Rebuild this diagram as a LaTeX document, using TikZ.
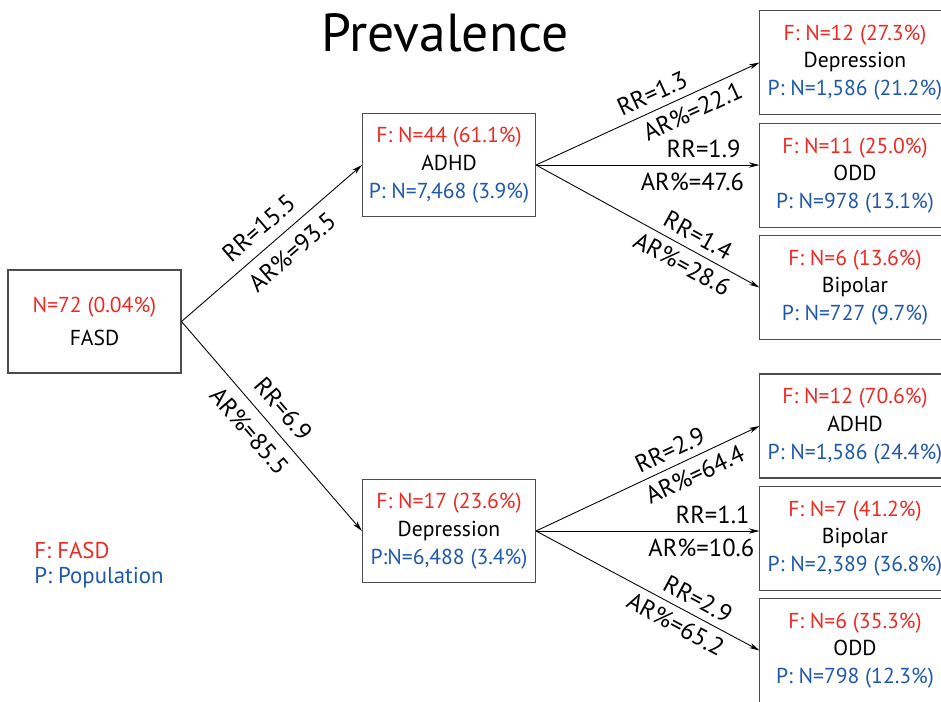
\documentclass[tikz,border=0pt]{standalone}
\usepackage{fontspec}
\setmainfont{PT Sans}
\usetikzlibrary{positioning,arrows.meta}
\definecolor{fred}{RGB}{236,42,36}
\definecolor{pblue}{RGB}{30,88,172}
\tikzset{frame/.style={draw=black!70,line width=0.6pt},
box/.style={frame,align=center,minimum width=3.46cm,minimum height=2.06cm,inner sep=0pt,font=\fontsize{12.3}{15.8}\selectfont},
rbox/.style={box,draw=none,minimum width=3.8cm},
branch/.style={-{Stealth[length=6pt,width=3pt]},line width=0.5pt},
lbl/.style={font=\fontsize{14}{16}\selectfont,inner sep=4pt}}
\newcommand{\fl}[1]{\textcolor{fred}{#1}}
\newcommand{\pl}[1]{\textcolor{pblue}{#1}}
\begin{document}
\begin{tikzpicture}[x=0.02cm,y=-0.02cm]
\useasboundingbox (0,0) rectangle (941,701);
\node (title) at (445,33) {\fontsize{30.5}{34}\selectfont Prevalence};
% first level
\node[box] (fasd) at (94.5,321.5) {\fl{N=72 (0.04\%)}\\[3pt]FASD};
\node[box] (adhd) at (449,165) {\fl{F: N=44 (61.1\%)}\\ADHD\\\pl{P: N=7,468 (3.9\%)}};
\node[box] (dep) at (449,531) {\fl{F: N=17 (23.6\%)}\\Depression\\\pl{P:N=6,488 (3.4\%)}};
% second level, cut by the right edge
\node[rbox] (dep1) at (855,62.5) {\fl{F: N=12 (27.3\%)}\\Depression\\\pl{P: N=1,586 (21.2\%)}};
\node[rbox] (odd1) at (855,175.5) {\fl{F: N=11 (25.0\%)}\\ODD\\\pl{P: N=978 (13.1\%)}};
\node[rbox] (bip1) at (855,287.5) {\fl{F: N=6 (13.6\%)}\\Bipolar\\\pl{P: N=727 (9.7\%)}};
\node[rbox] (adhd2) at (855,426) {\fl{F: N=12 (70.6\%)}\\ADHD\\\pl{P: N=1,586 (24.4\%)}};
\node[rbox] (bip2) at (855,538.5) {\fl{F: N=7 (41.2\%)}\\Bipolar\\\pl{P: N=2,389 (36.8\%)}};
\node[rbox] (odd2) at (855,650.5) {\fl{F: N=6 (35.3\%)}\\ODD\\\pl{P: N=798 (12.3\%)}};
\coordinate (edge) at (990,0);
\foreach \n in {dep1,odd1,bip1,adhd2,bip2,odd2}
\draw[frame] (edge |- \n.north) -- (\n.north west) -- (\n.south west) -- (edge |- \n.south);
% legend
\node[anchor=west,inner sep=0pt,font=\fontsize{13}{15}\selectfont,text=fred] (legf) at (34,550) {F: FASD};
\node[anchor=west,inner sep=0pt,font=\fontsize{13}{15}\selectfont,text=pblue] (legp) at (34,578) {P: Population};
% branches
\draw[branch] (fasd.east) -- node[lbl,inner sep=6pt,above,sloped,pos=0.5]{RR=15.5} node[lbl,inner sep=6pt,below,sloped,pos=0.54]{AR\%=93.5} (adhd.west);
\draw[branch] (fasd.east) -- node[lbl,inner sep=6pt,above,sloped,pos=0.48]{RR=6.9} node[lbl,inner sep=6pt,below,sloped,pos=0.46]{AR\%=85.5} (dep.west);
\foreach \s/\t/\rr/\ar/\pr/\pa in {adhd/dep1/1.3/22.1/0.55/0.67,adhd/bip1/1.4/28.6/0.69/0.69,dep/adhd2/2.9/64.4/0.63/0.68,dep/odd2/2.9/65.2/0.69/0.66}
\draw[branch] (\s.east) -- node[lbl,above,sloped,pos=\pr]{RR=\rr} node[lbl,below,sloped,pos=\pa]{AR\%=\ar} (\t.west);
\draw[branch] (adhd.east) -- node[lbl,above,pos=0.75]{RR=1.9} node[lbl,below,pos=0.7]{AR\%=47.6} (adhd.east -| odd1.west);
\draw[branch] (dep.east) -- node[lbl,above,pos=0.79]{RR=1.1} node[lbl,below,pos=0.74]{AR\%=10.6} (dep.east -| bip2.west);
\end{tikzpicture}
\end{document}
